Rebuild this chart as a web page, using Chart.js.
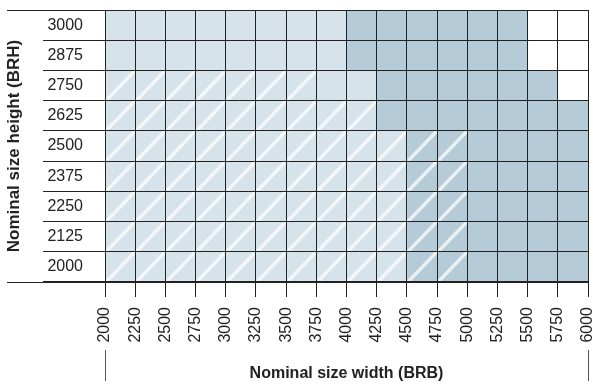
<!DOCTYPE html>
<html>
<head>
<meta charset="utf-8">
<script src="https://cdn.jsdelivr.net/npm/chart.js@4.4.1/dist/chart.umd.min.js"></script>
<style>
  body { margin: 0; background: #fff; }
  #wrap { width: 593px; height: 385px; position: relative; }
</style>
</head>
<body>
<div id="wrap"><canvas id="sizeChart"></canvas></div>
<script>
// rows (top to bottom) and the value where each band ends
const heights = ['3000', '2875', '2750', '2625', '2500', '2375', '2250', '2125', '2000'];
const lightEnd = [4000, 4000, 4250, 4250, 4500, 4500, 4500, 4500, 4500];
const darkEnd = [5500, 5500, 5750, 6000, 6000, 6000, 6000, 6000, 6000];
// hatched cells run from 2000 up to this width (2000 = none)
const hatchEnd = [2000, 2000, 3750, 4250, 5000, 5000, 5000, 5000, 5000];
const widthTicks = [2000, 2250, 2500, 2750, 3000, 3250, 3500, 3750, 4000, 4250, 4500, 4750, 5000, 5250, 5500, 5750, 6000];
const minWidth = 2000;
const step = 250;

const lineColor = '#222';

Chart.defaults.font.family = "'Liberation Sans', Arial, sans-serif";
Chart.defaults.font.size = 16;
Chart.defaults.color = '#222';

// diagonal hatch + table edges outside the plot
const tablePlugin = {
  id: 'tablePlugin',
  afterDatasetsDraw(chart) {
    const ctx = chart.ctx;
    const x = chart.scales.x;
    const y = chart.scales.y;
    const half = (y.getPixelForValue(1) - y.getPixelForValue(0)) / 2;
    ctx.save();
    ctx.strokeStyle = 'rgba(255,255,255,0.72)';
    ctx.lineWidth = 3.5;
    hatchEnd.forEach((end, i) => {
      const yc = y.getPixelForValue(i);
      const yt = yc - half, yb = yc + half;
      for (let v = minWidth; v < end; v += step) {
        const x0 = x.getPixelForValue(v), x1 = x.getPixelForValue(v + step);
        ctx.save();
        ctx.beginPath();
        ctx.rect(x0, yt, x1 - x0, yb - yt);
        ctx.clip();
        ctx.beginPath();
        ctx.moveTo(x0 + 1, yb);
        ctx.lineTo(x1, yt);
        ctx.stroke();
        ctx.restore();
      }
    });
    ctx.restore();
  },
  afterDraw(chart) {
    const ctx = chart.ctx;
    const area = chart.chartArea;
    const x = chart.scales.x;
    ctx.save();
    ctx.strokeStyle = lineColor;
    ctx.lineWidth = 1;
    ctx.beginPath();
    // top and bottom rules run to the left edge
    ctx.moveTo(7, Math.round(area.top) + 0.5);
    ctx.lineTo(area.left, Math.round(area.top) + 0.5);
    ctx.moveTo(7, Math.round(area.bottom) + 0.5);
    ctx.lineTo(area.left, Math.round(area.bottom) + 0.5);
    ctx.stroke();
    // bracket for the width title
    ctx.strokeStyle = '#555';
    ctx.beginPath();
    [widthTicks[0], widthTicks[widthTicks.length - 1]].forEach(v => {
      const px = Math.round(x.getPixelForValue(v)) + 0.5;
      ctx.moveTo(px, 350);
      ctx.lineTo(px, 381);
    });
    ctx.stroke();
    ctx.restore();
  }
};

new Chart(document.getElementById('sizeChart'), {
  type: 'bar',
  data: {
    labels: heights,
    datasets: [
      {
        label: 'light',
        data: heights.map((h, i) => [minWidth, lightEnd[i]]),
        backgroundColor: '#d7e3eb',
        grouped: false,
        barPercentage: 1,
        categoryPercentage: 1,
        borderWidth: 0
      },
      {
        label: 'dark',
        data: heights.map((h, i) => [lightEnd[i], darkEnd[i]]),
        backgroundColor: '#b5cbd7',
        grouped: false,
        barPercentage: 1,
        categoryPercentage: 1,
        borderWidth: 0
      }
    ]
  },
  options: {
    indexAxis: 'y',
    responsive: true,
    maintainAspectRatio: false,
    animation: false,
    layout: { padding: { top: 10, right: 5, left: 0, bottom: 0 } },
    plugins: {
      legend: { display: false },
      tooltip: { enabled: false }
    },
    scales: {
      x: {
        type: 'linear',
        position: 'bottom',
        min: minWidth,
        max: 6000,
        afterBuildTicks: (scale) => {
          scale.ticks = widthTicks.map(v => ({ value: v }));
        },
        afterFit: (scale) => {
          scale.height = 103;
          scale.paddingLeft = 0;
          scale.paddingRight = 0;
        },
        grid: { z: 1, color: lineColor, tickColor: lineColor, tickLength: 15, lineWidth: 1 },
        border: { display: true, color: lineColor, z: 1 },
        ticks: {
          minRotation: 90,
          maxRotation: 90,
          padding: 10,
          autoSkip: false,
          callback: (v) => String(v)
        },
        title: {
          display: true,
          text: 'Nominal size width (BRB)',
          font: { size: 16, weight: 'bold' },
          padding: { top: 0, bottom: 2 }
        }
      },
      y: {
        type: 'category',
        position: 'left',
        offset: true,
        afterFit: (scale) => {
          scale.width = 105;
        },
        grid: { z: 1, offset: true, color: lineColor, tickColor: lineColor, tickLength: 62, lineWidth: 1 },
        border: { display: true, color: lineColor, z: 1 },
        ticks: { padding: -40, autoSkip: false },
        title: {
          display: true,
          text: 'Nominal size height (BRH)',
          font: { size: 17, weight: 'bold' },
          padding: { top: 4, bottom: 0 }
        }
      }
    }
  },
  plugins: [tablePlugin]
});
</script>
</body>
</html>
